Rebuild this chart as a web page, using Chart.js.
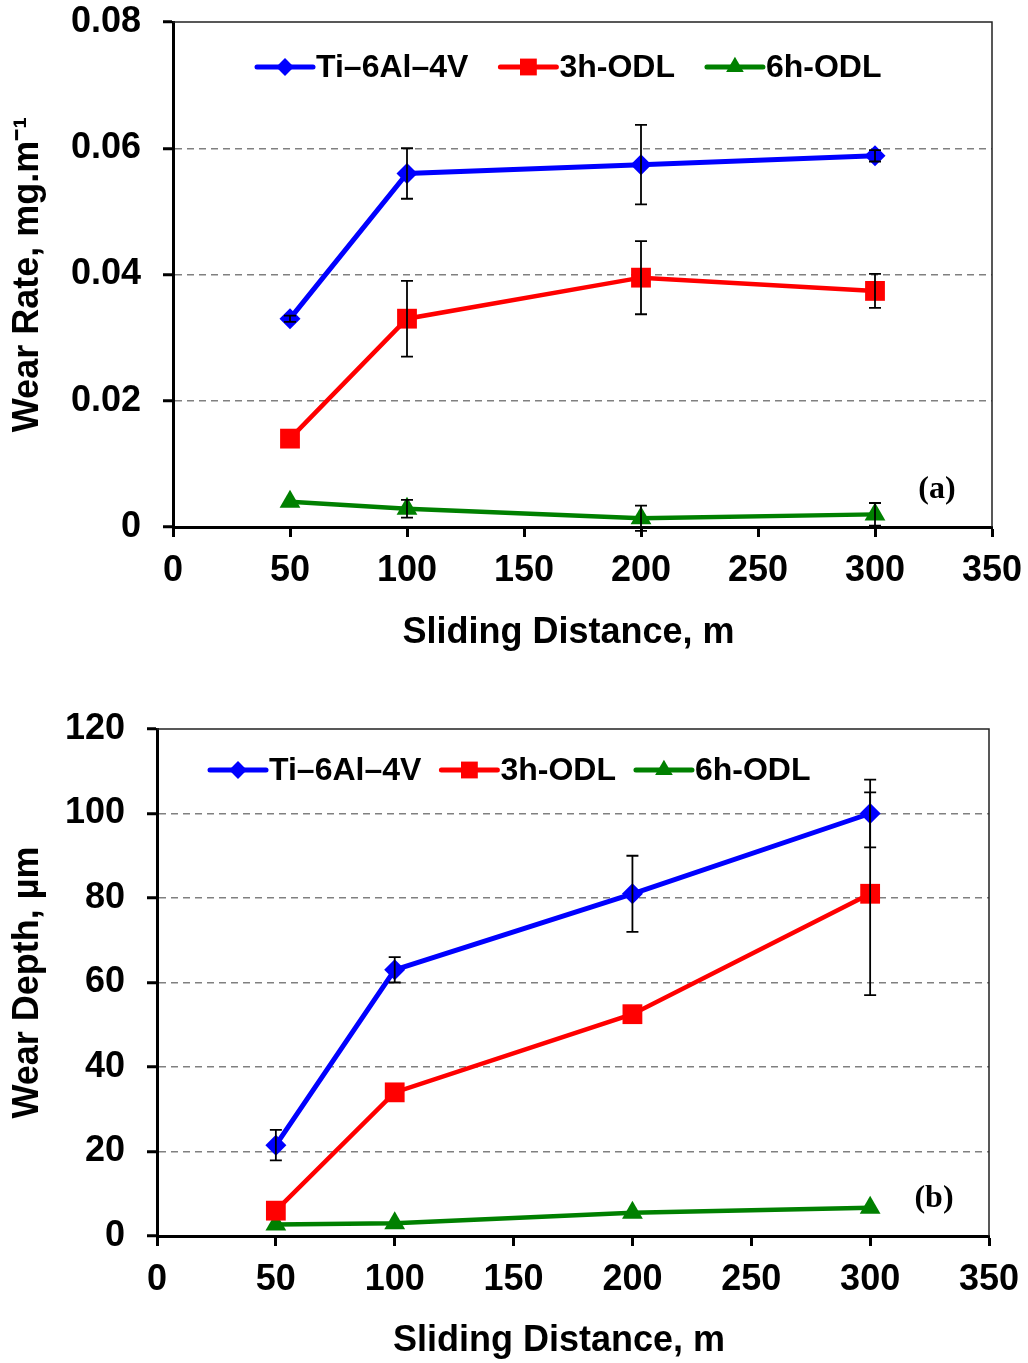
<!DOCTYPE html>
<html>
<head>
<meta charset="utf-8">
<script src="https://cdn.jsdelivr.net/npm/chart.js@4.4.1/dist/chart.umd.min.js"></script>
<style>
  html, body { margin: 0; padding: 0; background: #fff; }
  canvas { display: block; }
</style>
</head>
<body>
<canvas id="chartRate" width="1028" height="680"></canvas>
<canvas id="chartDepth" width="1028" height="683"></canvas>
<script>
// Datos
const distance   = [50, 100, 200, 300];
const xTicks     = [0, 50, 100, 150, 200, 250, 300, 350];
const seriesNames = ['Ti–6Al–4V', '3h-ODL', '6h-ODL'];
const xTitle     = 'Sliding Distance, m';

// (a) Wear rate, mg/m
const rateTi     = [0.0330, 0.0560, 0.0574, 0.0588];
const rateTiErr  = [0.0005, 0.0040, 0.0063, 0.0009];
const rate3h     = [0.0140, 0.0330, 0.0395, 0.0374];
const rate3hErr  = [0, 0.0060, 0.0058, 0.0027];
const rate6h     = [0.0040, 0.0029, 0.0014, 0.0020];
const rate6hErr  = [0, 0.0014, 0.0020, 0.0018];
const rateTicks  = [0, 0.02, 0.04, 0.06, 0.08];

// (b) Wear depth, µm
const depthTi    = [21.5, 63, 81, 100];
const depthTiErr = [3.6, 3, 9, 8];
const depth3h    = [6, 34, 52.5, 81];
const depth3hErr = [0, 0, 0, 24];
const depth6h    = [2.7, 3, 5.5, 6.7];
const depth6hErr = [0, 0, 0, 0];
const depthTicks = [0, 20, 40, 60, 80, 100, 120];

const COLORS  = ['#0000ff', '#ff0000', '#008000'];
const WIDTHS  = [5, 4.5, 4.5];
const MARKERS = [
  { style: 'rectRot',  r: 10.5 },
  { style: 'rect',     r: 14 },
  { style: 'triangle', r: 12 },
];
const FONT = '"Liberation Sans", Arial, sans-serif';

Chart.defaults.font.family = FONT;
Chart.defaults.color = '#000';

function pts(ys) {
  return distance.map((d, i) => ({ x: d, y: ys[i] }));
}

function drawMarker(ctx, style, r, x, y) {
  ctx.beginPath();
  if (style === 'rectRot') {
    ctx.moveTo(x, y - r); ctx.lineTo(x + r, y); ctx.lineTo(x, y + r); ctx.lineTo(x - r, y);
  } else if (style === 'rect') {
    const s = r * Math.SQRT1_2;
    ctx.rect(x - s, y - s, 2 * s, 2 * s);
  } else {
    const h = r * 1.5, w = r * Math.sqrt(3) / 2;
    ctx.moveTo(x, y - r); ctx.lineTo(x + w, y + h - r); ctx.lineTo(x - w, y + h - r);
  }
  ctx.closePath();
  ctx.fill();
}

// Leyenda línea + marcador dentro del área de trazado
const lineLegend = {
  id: 'lineLegend',
  afterDraw(chart, args, opts) {
    const { ctx, chartArea } = chart;
    let x = chartArea.left + opts.x;
    const y = chartArea.top + opts.y;
    ctx.save();
    ctx.font = 'bold 32px ' + FONT;
    ctx.textBaseline = 'middle';
    chart.data.datasets.forEach((ds, i) => {
      ctx.strokeStyle = ds.borderColor;
      ctx.fillStyle = ds.borderColor;
      ctx.lineWidth = 5;
      ctx.lineCap = 'round';
      ctx.beginPath(); ctx.moveTo(x, y); ctx.lineTo(x + 56, y); ctx.stroke();
      drawMarker(ctx, MARKERS[i].style, MARKERS[i].r * 0.85, x + 28, y);
      ctx.fillStyle = '#000';
      ctx.fillText(ds.label, x + 59, y + 1);
      x += 59 + ctx.measureText(ds.label).width + opts.gap;
    });
    ctx.restore();
  }
};

// Barras de error, marco superior/derecho, título X y etiqueta del panel
const extras = {
  id: 'extras',
  afterDatasetsDraw(chart) {
    const { ctx, scales: { x, y } } = chart;
    ctx.save();
    ctx.strokeStyle = '#000';
    ctx.lineWidth = 1.8;
    chart.data.datasets.forEach(ds => {
      ds.data.forEach((p, j) => {
        const e = ds.errors[j];
        if (!e) return;
        const px = x.getPixelForValue(p.x);
        const y1 = y.getPixelForValue(p.y + e);
        const y2 = y.getPixelForValue(p.y - e);
        ctx.beginPath();
        ctx.moveTo(px, y1); ctx.lineTo(px, y2);
        ctx.moveTo(px - 6, y1); ctx.lineTo(px + 6, y1);
        ctx.moveTo(px - 6, y2); ctx.lineTo(px + 6, y2);
        ctx.stroke();
      });
    });
    ctx.restore();
  },
  afterDraw(chart, args, opts) {
    const { ctx, chartArea: a } = chart;
    ctx.save();
    ctx.strokeStyle = '#222';
    ctx.lineWidth = 1.5;
    ctx.beginPath();
    ctx.moveTo(a.left, a.top); ctx.lineTo(a.right, a.top); ctx.lineTo(a.right, a.bottom);
    ctx.stroke();

    ctx.fillStyle = '#000';
    ctx.textAlign = 'center';
    ctx.textBaseline = 'middle';
    ctx.font = 'bold 36px ' + FONT;
    ctx.fillText(xTitle, (a.left + a.right) / 2 - 14, a.bottom + opts.titleDy);

    ctx.font = 'bold 32px "Liberation Serif", "Times New Roman", serif';
    ctx.fillText(opts.tag, a.right - opts.tagDx, a.bottom - opts.tagDy);
    ctx.restore();
  }
};

function makeChart(id, cfg) {
  const datasets = cfg.series.map((s, i) => ({
    label: seriesNames[i],
    data: pts(s.values),
    errors: s.errors,
    borderColor: COLORS[i],
    backgroundColor: COLORS[i],
    pointBackgroundColor: COLORS[i],
    pointBorderColor: COLORS[i],
    pointStyle: MARKERS[i].style,
    pointRadius: MARKERS[i].r,
    pointBorderWidth: 0,
    borderWidth: WIDTHS[i],
    tension: 0,
  }));
  const yMax = cfg.yTicks[cfg.yTicks.length - 1];

  return new Chart(document.getElementById(id), {
    type: 'line',
    data: { datasets },
    plugins: [lineLegend, extras],
    options: {
      responsive: false,
      animation: false,
      layout: { padding: { left: 0, top: cfg.top, right: cfg.right, bottom: 0 } },
      plugins: {
        legend: { display: false },
        tooltip: { enabled: false },
        lineLegend: cfg.legend,
        extras: { tag: cfg.tag, tagDx: 55, tagDy: 37, titleDy: cfg.xTitleDy },
      },
      scales: {
        x: {
          type: 'linear',
          min: 0, max: 350,
          afterBuildTicks: s => { s.ticks = xTicks.map(v => ({ value: v })); },
          afterFit: s => { s.height = cfg.xHeight; s.paddingLeft = 0; s.paddingRight = 0; },
          border: { color: '#000', width: 3 },
          grid: { drawOnChartArea: false, tickColor: '#000', tickWidth: 3, tickLength: 10 },
          ticks: { font: { size: 36, weight: 'bold' }, padding: 12, maxRotation: 0 },
        },
        y: {
          min: 0, max: yMax,
          afterBuildTicks: s => { s.ticks = cfg.yTicks.map(v => ({ value: v })); },
          afterFit: s => { s.width = cfg.yWidth; s.paddingTop = 0; s.paddingBottom = 0; },
          border: { color: '#000', width: 3, dash: [7, 5] },
          grid: {
            color: c => (c.tick.value === 0 || c.tick.value === yMax) ? 'transparent' : '#808080',
            lineWidth: 1.5,
            tickColor: '#000', tickWidth: 3, tickLength: 10,
          },
          ticks: {
            font: { size: 36, weight: 'bold' },
            padding: 22,
            callback: cfg.yFormat,
          },
          title: {
            display: true, text: cfg.yTitle,
            font: { size: 36, weight: 'bold' },
            padding: { top: 6, bottom: 0 },
          },
        },
      },
    },
  });
}

makeChart('chartRate', {
  series: [
    { values: rateTi, errors: rateTiErr },
    { values: rate3h, errors: rate3hErr },
    { values: rate6h, errors: rate6hErr },
  ],
  yTicks: rateTicks,
  yFormat: v => v === 0 ? '0' : v.toFixed(2),
  yTitle: 'Wear Rate, mg.m⁻¹',
  top: 22, right: 36, yWidth: 173, xHeight: 153, xTitleDy: 106,
  legend: { x: 84, y: 45, gap: 32 },
  tag: '(a)',
});

makeChart('chartDepth', {
  series: [
    { values: depthTi, errors: depthTiErr },
    { values: depth3h, errors: depth3hErr },
    { values: depth6h, errors: depth6hErr },
  ],
  yTicks: depthTicks,
  yFormat: v => String(v),
  yTitle: 'Wear Depth, µm',
  top: 49, right: 39, yWidth: 157, xHeight: 127, xTitleDy: 105,
  legend: { x: 53, y: 41, gap: 20 },
  tag: '(b)',
});
</script>
</body>
</html>
